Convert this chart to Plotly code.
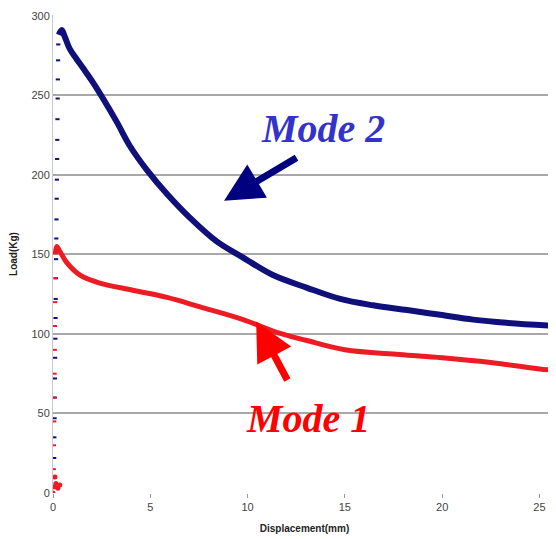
import plotly.graph_objects as go

# Mode 2 (blue) – main curve after peak
mode2_x = [0.30, 0.45, 0.60, 0.87, 1.20, 1.55, 2.06, 2.57, 3.29, 3.96, 4.83, 5.86, 7.04, 8.43, 9.77,
           11.3, 13.06, 14.76, 16.45, 18.2, 19.9, 21.6, 23.3, 25.8]
mode2_y = [288, 291, 287, 279, 273, 267, 258, 248, 233, 218, 203, 188, 173, 158, 148,
           137, 129, 122, 118, 115, 112, 109, 107, 105]
# Mode 2 rising (sparse points)
mode2_rise_x = [0.05, 0.06, 0.07, 0.08, 0.09, 0.10, 0.11, 0.12, 0.13, 0.14, 0.15, 0.16, 0.17, 0.18,
                0.19, 0.20, 0.21, 0.22, 0.23, 0.24, 0.25, 0.26, 0.27]
mode2_rise_y = [10, 22, 35, 47, 60, 72, 85, 97, 110, 122, 135, 147, 160, 172, 185, 197, 210, 222,
                235, 248, 260, 272, 282]

# Mode 1 (red) – main curve after peak
mode1_x = [0.12, 0.19, 0.35, 0.70, 1.39, 2.4, 4.1, 5.86, 7.56, 9.77, 11.5, 13.0, 15.0, 17.8,
           20.0, 22.5, 25.0, 25.8]
mode1_y = [150, 155, 152, 145, 137, 132, 127.5, 123, 117, 109, 101, 96, 90, 87, 85, 82, 78, 77]
# Mode 1 rising (sparse points)
mode1_rise_x = [0.03, 0.04, 0.05, 0.06, 0.07, 0.08, 0.09, 0.10, 0.11, 0.12]
mode1_rise_y = [3, 15, 30, 45, 60, 75, 90, 105, 120, 135]
# cluster at origin
origin_x = [0.0, 0.08, 0.15, 0.25, 0.35, 0.10]
origin_y = [0, 4, 6, 3, 5, 10]

x_ticks = [0, 5, 10, 15, 20, 25]
y_ticks = [0, 50, 100, 150, 200, 250, 300]

BLUE = "#10107a"
RED = "#ec1c24"

# page body has an 8px default margin; compensate so the chart lands where the reference is
OFF = 8
W, H = 556 - OFF, 539 - OFF
L, T, B, R = 53 - OFF, 15 - OFF, 54 - OFF, 0

fig = go.Figure()
fig.add_trace(go.Scatter(x=mode2_rise_x, y=mode2_rise_y, mode="markers",
                         marker=dict(color=BLUE, size=3, symbol="line-ew-open",
                                     line=dict(color=BLUE, width=2)),
                         showlegend=False))
fig.add_trace(go.Scatter(x=mode2_x, y=mode2_y, mode="lines",
                         line=dict(color=BLUE, width=6, shape="spline"), showlegend=False))
fig.add_trace(go.Scatter(x=mode1_rise_x, y=mode1_rise_y, mode="markers",
                         marker=dict(color=RED, size=3, symbol="line-ew-open",
                                     line=dict(color=RED, width=2)),
                         showlegend=False))
fig.add_trace(go.Scatter(x=mode1_x, y=mode1_y, mode="lines",
                         line=dict(color=RED, width=5, shape="spline"), showlegend=False))
fig.add_trace(go.Scatter(x=origin_x, y=origin_y, mode="markers",
                         marker=dict(color=RED, size=5), showlegend=False))

pw, ph = 556 - 53, 539 - 15 - 54


def px(x):
    return (x - 53) / pw


def py(y):
    return 1 - (y - 15) / ph


fig.update_layout(
    width=W, height=H,
    margin=dict(l=L, r=R, t=T, b=B),
    paper_bgcolor="white", plot_bgcolor="white",
    font=dict(family="Liberation Sans, Arial", size=10, color="#333333"),
    xaxis=dict(range=[0, 25.85], tickvals=x_ticks, showgrid=False, zeroline=False,
               showline=False, ticks="outside", ticklen=4, tickcolor="#999999",
               title=dict(text="<b>Displacement(mm)</b>", font=dict(size=10, color="#222"),
                          standoff=12),
               tickfont=dict(size=11, color="#444")),
    yaxis=dict(range=[0, 300.5], tickvals=y_ticks, showgrid=True, gridcolor="#a8a8a8",
               gridwidth=2, zeroline=False, showline=True, linecolor="#c8c8d8", linewidth=1,
               ticks="", title=dict(text="<b>Load(Kg)</b>", font=dict(size=10, color="#222"),
                                   standoff=14),
               tickfont=dict(size=11, color="#444")),
    annotations=[
        dict(x=8.79, y=183.7, xref="x", yref="y", text="", showarrow=True,
             ax=74, ay=-44, arrowhead=2, arrowsize=1.1, arrowwidth=7, arrowcolor="#000080"),
        dict(x=10.44, y=107.8, xref="x", yref="y", text="", showarrow=True,
             ax=32, ay=60, arrowhead=2, arrowsize=1.1, arrowwidth=7, arrowcolor="#ff0000"),
        dict(x=px(323), y=py(127), xref="paper", yref="paper", text="<b><i>Mode 2</i></b>",
             showarrow=False, xanchor="center", yanchor="middle",
             font=dict(family="Liberation Serif, Times New Roman", size=40, color="#3333cc")),
        dict(x=px(308), y=py(412), xref="paper", yref="paper", text="<b><i>Mode 1</i></b>",
             showarrow=False, xanchor="center", yanchor="middle",
             font=dict(family="Liberation Serif, Times New Roman", size=40, color="#ff0000")),
    ],
)

fig.write_html("out.html")
